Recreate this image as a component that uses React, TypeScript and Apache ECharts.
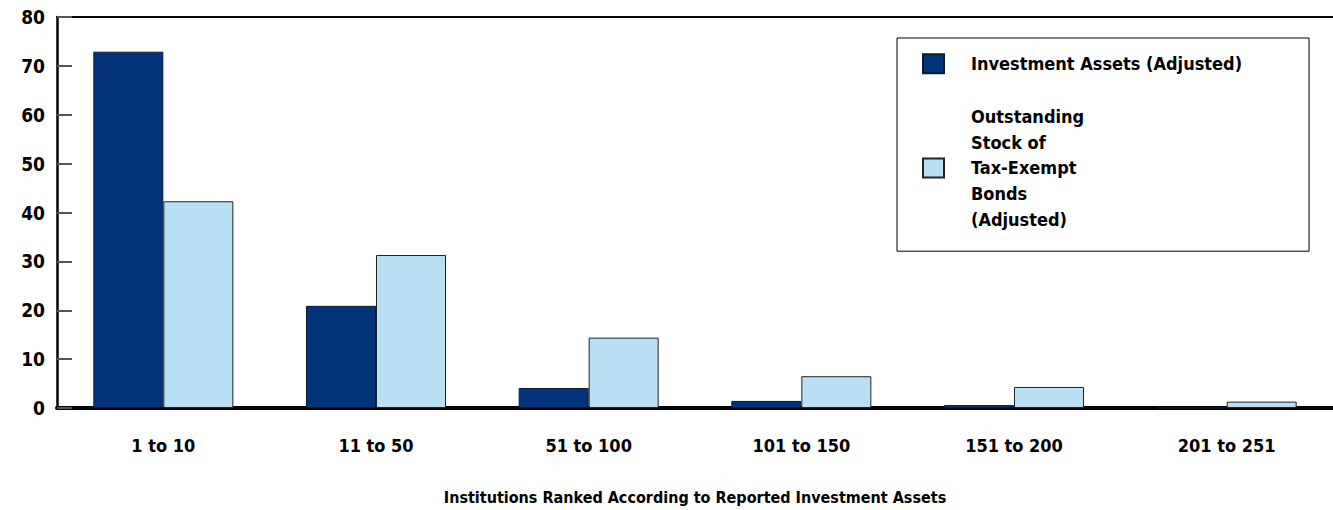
import React, { useEffect, useRef } from "react";
import * as echarts from "echarts";

const categories = ["1 to 10", "11 to 50", "51 to 100", "101 to 150", "151 to 200", "201 to 251"];
const investmentAssets = [72.9, 20.9, 4.1, 1.45, 0.6, 0.05];
const taxExemptBonds = [42.3, 31.3, 14.4, 6.5, 4.3, 1.3];
const seriesNames = ["Investment Assets (Adjusted)", "Outstanding Stock of Tax-Exempt Bonds (Adjusted)"];
const legendLabels: Record<string, string> = {
  "Investment Assets (Adjusted)": "Investment Assets (Adjusted)",
  "Outstanding Stock of Tax-Exempt Bonds (Adjusted)": "Outstanding\nStock of\nTax-Exempt\nBonds\n(Adjusted)",
};
const xAxisTitle = "Institutions Ranked According to Reported Investment Assets";

const FONT = "'Liberation Sans Narrow', 'DejaVu Sans Condensed', 'Liberation Sans', sans-serif";

export default function App() {
  const ref = useRef<HTMLDivElement>(null);
  useEffect(() => {
    if (!ref.current) return;
    const chart = echarts.init(ref.current, null, { renderer: "svg" });
    chart.setOption({
      animation: false,
      backgroundColor: "#ffffff",
      textStyle: { fontFamily: FONT, fontWeight: "bold", color: "#000" },
      grid: { left: 57, right: 0, top: 17, bottom: 98, containLabel: false },
      legend: {
        orient: "vertical",
        left: 897,
        top: 38,
        itemWidth: 21,
        itemHeight: 19,
        itemGap: 27,
        padding: [13, 67, 19, 25],
        borderColor: "#000",
        borderWidth: 1,
        icon: "rect",
        selectedMode: false,
        formatter: (name: string) => legendLabels[name] || name,
        textStyle: {
          fontFamily: FONT,
          fontWeight: "bold",
          fontSize: 18,
          lineHeight: 25.7,
          color: "#000",
          padding: [0, 0, 0, 22],
        },
        data: seriesNames,
      },
      xAxis: [
        {
          type: "category",
          data: categories,
          position: "bottom",
          axisLine: { show: true, lineStyle: { color: "#000", width: 4 } },
          axisTick: { show: false },
          axisLabel: { margin: 28, fontSize: 18, fontWeight: "bold", fontFamily: FONT, color: "#000" },
          name: xAxisTitle,
          nameLocation: "middle",
          nameGap: 81,
          nameTextStyle: { fontSize: 16, fontWeight: "bold", fontFamily: FONT, color: "#000" },
        },
        {
          type: "category",
          data: categories,
          position: "top",
          axisLine: { show: true, lineStyle: { color: "#000", width: 2 } },
          axisTick: { show: false },
          axisLabel: { show: false },
        },
      ],
      yAxis: {
        type: "value",
        min: 0,
        max: 80,
        interval: 10,
        axisLine: { show: true, lineStyle: { color: "#000", width: 2.5 } },
        axisTick: { show: true, inside: true, length: 15, lineStyle: { color: "#555", width: 2 } },
        axisLabel: { margin: 12, fontSize: 19, fontWeight: "bold", fontFamily: FONT, color: "#000" },
        splitLine: { show: false },
      },
      series: [
        {
          name: seriesNames[0],
          type: "bar",
          xAxisIndex: 0,
          data: investmentAssets,
          barWidth: 70,
          barGap: "0%",
          itemStyle: { color: "#03347A", borderColor: "#0a1a33", borderWidth: 1 },
        },
        {
          name: seriesNames[1],
          type: "bar",
          xAxisIndex: 0,
          data: taxExemptBonds,
          barWidth: 70,
          barGap: "0%",
          itemStyle: { color: "#B8DFF4", borderColor: "#222", borderWidth: 1 },
        },
      ],
    });
    return () => chart.dispose();
  }, []);
  return (
    <div
      ref={ref}
      style={{ position: "fixed", left: 0, top: 0, width: 1333, height: 510, background: "#fff" }}
    />
  );
}
